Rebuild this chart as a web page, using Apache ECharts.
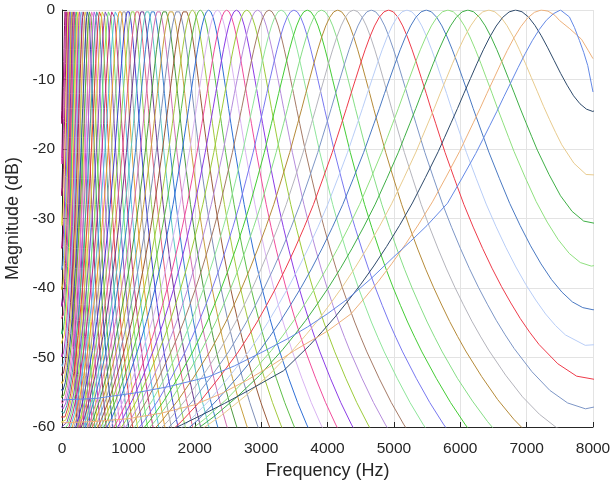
<!DOCTYPE html>
<html><head><meta charset="utf-8">
<script src="https://cdn.jsdelivr.net/npm/echarts@6/dist/echarts.min.js"></script>
<style>html,body{margin:0;padding:0;background:#fff}#c{width:612px;height:488px}</style>
</head><body><div id="c"></div>
<script>
// Peak (centre) frequency of each filter channel, Hz (highest first)
const centers = [7510,7220,6833,6431,6115,5814,5488,5197,4921,4660,4395,4154,
  3909,3696,3494,3302,3120,2947,2784,2629,2481,2342,2209,2084,1965,1852,1744,1643,
  1546,1455,1368,1286,1208,1134,1064,997,934,874,817,763,712,664,618,574,533,494,
  456,421,388,356,326,297,270,244,220,197,175,154,134,116,98,81,65,50];

const colors = ['#6489E6','#EDB07A','#2E4A6B','#E8CB8E','#3FAF46','#8FE07F','#4A79C2','#B8CDF7',
  '#EE3B4A','#7D96C6','#B4B4BC','#B58A38','#86DE86','#44CC35','#7878F0','#8EE59A',
  '#A57A66','#B58CDC','#9CCB3A','#8C3CE6','#F04C9C','#D9B3F2','#2F6FD6','#5DBE48',
  '#A4C93E','#9A5A3A','#7F8FB8','#C8A040','#4E9A40','#D070B0','#3A80D0','#59C8C0',
  '#6E3A8E','#E06080','#90D050','#4040D0','#A0A0A0','#E8A030','#50C0E0','#C03080',
  '#70E070','#8050C0','#D0D040','#E04040','#40A0A0','#B060E0','#F080C0','#60B030',
  '#3050A0','#E0C050','#A03060','#80C0F0','#C040C0','#F0E040','#40C070','#E05090',
  '#9030A0','#D0B030','#60A0E0','#C02090','#E8E050','#A02070','#D040B0','#8A1060'];

// Shared filter shape read from the mid channels: offset (in bandwidths) -> dB
const profileX  = [0, 0.125, 0.25, 0.375, 0.5, 0.625, 0.75, 0.875, 1, 1.125, 1.25, 1.375, 1.5, 1.75, 2, 2.25, 2.5, 2.75, 3, 3.25, 3.5, 3.75, 4, 4.5, 5, 5.5, 6, 7, 8, 10, 13];
const profileDb = [0, -0.27, -1.05, -2.29, -3.88, -5.73, -7.75, -9.88, -12.0, -14.2, -16.3, -18.4, -20.5, -24.3, -28.0, -31.3, -34.4, -37.3, -40.0, -42.5, -44.9, -47.1, -49.2, -53.0, -56.5, -59.6, -62.4, -67.5, -72.0, -79.5, -88.5];

// Flattened low-frequency tails of the top channels [Hz, dB]
const tail1 = [[0,-56.1],[500,-55.9],[1100,-55.1],[1600,-54.2],[2200,-52.8],[2600,-51.2],[3000,-49.3],[3400,-47.3],[3700,-45.6],[4000,-43.7],[4300,-41.6],[4650,-38.7],[5000,-35.5],[5250,-33.3],[5500,-31.0]];
const tail2 = [[0,-59.4],[500,-59.2],[1000,-58.8],[1500,-58.0],[2000,-56.8],[2400,-55.2],[2800,-53.2],[3150,-51.2],[3500,-49.0],[3750,-47.6],[4000,-46.2]];
const tail3 = [[1500,-61.0],[1800,-59.7],[2100,-58.3],[2450,-56.6],[2800,-54.8]];
const tailJoin = [-2, -3.5, -4.5];
// Upper edges of the two top channels near 8 kHz [Hz, dB]
const edge1 = [[7645,-1.0],[7720,-2.5],[7796,-4.4],[7860,-6.1],[7921,-8.0],[8000,-11.8]];
const edge2 = [[7495,-1.5],[7650,-2.7],[7826,-4.2],[7927,-5.8],[8000,-7.0]];
const edgeJoin = [0, 0.25];

const xTicks = [0,1000,2000,3000,4000,5000,6000,7000,8000];
const yTicks = [-60,-50,-40,-30,-20,-10,0];

function profileAt(x){
  x = Math.abs(x);
  const n = profileX.length;
  if (x >= profileX[n-1]) return -120;
  for (let k = 0; k < n-1; k++){
    if (x >= profileX[k] && x <= profileX[k+1]){
      const t = (x - profileX[k])/(profileX[k+1]-profileX[k]);
      return profileDb[k] + t*(profileDb[k+1]-profileDb[k]);
    }
  }
  return -120;
}
function bw(fc){ return 1.019*24.7*(4.37*fc/1000+1); }
const offsets = [];
for (let k = profileX.length-1; k > 0; k--) offsets.push(-profileX[k]);
for (let k = 0; k < profileX.length; k++) offsets.push(profileX[k]);

function buildCurve(i){
  const fc = centers[i], b = bw(fc);
  const tails = [tail1, tail2, tail3];
  const edges = [edge1, edge2];
  // shared shape placed at this channel (with its images about 0 Hz and 8 kHz)
  const tp = [];
  offsets.forEach(x => {
    if (i < 3 && x < tailJoin[i]) return;
    if (i < 2 && x > edgeJoin[i]) return;
    const f = fc + x*b;
    const idx = profileX.indexOf(Math.abs(x));
    const a = Math.pow(10, profileDb[idx]/20)
            + Math.pow(10, profileAt((f+fc)/b)/20)
            + Math.pow(10, profileAt((16000-f-fc)/b)/20);
    tp.push([f, 20*Math.log10(a)]);
  });
  const peak = Math.max.apply(null, tp.map(p => p[1]));
  const pts = [];
  if (i < 3) tails[i].forEach(p => pts.push([p[0], p[1]]));
  tp.forEach(p => pts.push([p[0], p[1] - peak]));
  if (i < 2) edges[i].forEach(p => pts.push([p[0], p[1]]));
  return pts;
}

const series = [];
for (let i = centers.length-1; i >= 0; i--){
  series.push({
    type: 'line', data: buildCurve(i), showSymbol: false, symbol: 'none',
    smooth: false, clip: true, animation: false,
    lineStyle: { width: 1, color: colors[i] }, silent: true
  });
}

const font = 'Liberation Sans, Arial, Helvetica, sans-serif';
const chart = echarts.init(document.getElementById('c'), null, {renderer: 'canvas'});
chart.setOption({
  animation: false,
  backgroundColor: '#ffffff',
  grid: { left: 62, right: 19, top: 10, bottom: 61, containLabel: false, outerBoundsMode: 'none' },
  xAxis: {
    type: 'value', min: xTicks[0], max: xTicks[xTicks.length-1], interval: 1000,
    name: 'Frequency (Hz)', nameLocation: 'middle', nameGap: 30,
    nameTextStyle: { fontSize: 18, color: '#262626', fontFamily: font },
    axisLine: { show: true, onZero: false, lineStyle: { color: '#262626', width: 1 } },
    axisTick: { show: true, inside: true, length: 5, lineStyle: { color: '#262626' } },
    axisLabel: { fontSize: 15.5, color: '#262626', margin: 14, fontFamily: font, formatter: v => String(v) },
    splitLine: { show: true, lineStyle: { color: '#e3e3e3', width: 1 } }
  },
  yAxis: {
    type: 'value', min: yTicks[0], max: yTicks[yTicks.length-1], interval: 10,
    name: 'Magnitude (dB)', nameLocation: 'middle', nameGap: 35, nameRotate: 90,
    nameTextStyle: { fontSize: 18, color: '#262626', fontFamily: font },
    axisLine: { show: true, onZero: false, lineStyle: { color: '#262626', width: 1 } },
    axisTick: { show: true, inside: true, length: 5, lineStyle: { color: '#262626' } },
    axisLabel: { fontSize: 15.5, color: '#262626', margin: 7, fontFamily: font, formatter: v => String(v) },
    splitLine: { show: true, lineStyle: { color: '#e3e3e3', width: 1 } }
  },
  series: series
});
</script></body></html>
